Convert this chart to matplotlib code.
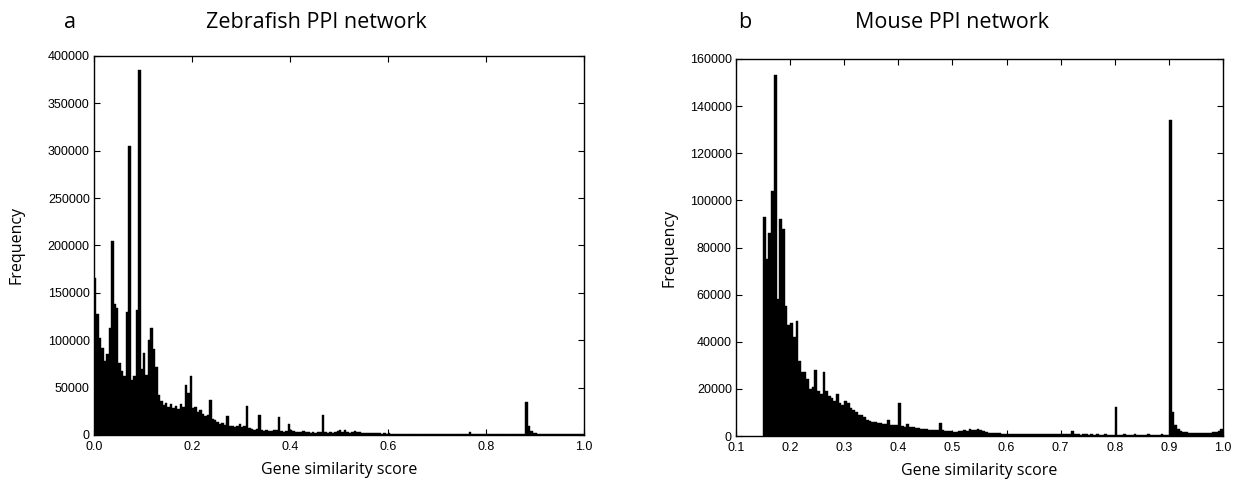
import numpy as np
import matplotlib
matplotlib.use("Agg")
import matplotlib.pyplot as plt

# histogram counts in thousands, bin width 0.005
zebra_start = 0.0
zebra_counts = [
    166, 128, 102, 92, 78, 85, 113, 205, 138, 134,      # 0.00
    76, 68, 62, 130, 305, 58, 62, 132, 385, 70,         # 0.05
    86, 63, 100, 113, 91, 72, 42, 36, 32, 34,           # 0.10
    30, 33, 29, 31, 27, 33, 30, 53, 44, 62,             # 0.15
    28, 30, 24, 26, 22, 20, 21, 37, 17, 16,             # 0.20
    14, 12, 13, 11, 20, 9, 10, 8, 9, 12,                # 0.25
    8, 10, 31, 7, 6, 5, 6, 21, 5, 4,                    # 0.30
    5, 4, 4, 5, 5, 19, 4, 3, 4, 12,                     # 0.35
    5, 4, 3, 3, 3, 4, 3, 3, 2.5, 3,                     # 0.40
    2.5, 3, 3, 21, 3, 2.5, 3, 2, 3, 4,                  # 0.45
    5, 3, 5, 3, 2.5, 3, 4, 3, 3.5, 2.5,                 # 0.50
    2, 2.5, 2, 1.8, 2, 1.6, 1.8, 1.5, 1.6, 1.5,         # 0.55
    2.5, 1.4, 1.3, 1.2, 1.2, 1.1, 1.2, 1.0, 1.1, 1.0,   # 0.60
    1.0, 1.1, 0.9, 1.0, 0.9, 1.0, 0.9, 0.9, 1.0, 0.8,   # 0.65
    0.9, 0.8, 0.9, 0.8, 0.8, 0.9, 0.8, 0.8, 0.8, 0.9,   # 0.70
    0.8, 0.8, 1.0, 3.5, 1.0, 0.8, 0.8, 0.7, 0.8, 0.7,   # 0.75
    0.8, 0.7, 0.8, 0.7, 0.8, 0.7, 0.7, 0.8, 0.7, 0.7,   # 0.80
    0.7, 0.8, 0.7, 0.7, 0.8, 0.7, 34.5, 9, 4.5, 2.5,    # 0.85
    1.8, 1.4, 1.2, 1.1, 1.0, 1.0, 0.9, 1.0, 0.9, 0.9,   # 0.90
    0.9, 0.9, 0.8, 0.9, 0.9, 0.8, 0.9, 0.9, 1.0, 1.5,   # 0.95
]

mouse_start = 0.15
mouse_counts = [
    93, 75, 86, 104, 153, 58, 92, 88, 55, 47,           # 0.15
    48, 42, 49, 32, 27, 27, 24, 20, 21, 28,             # 0.20
    19, 18, 27, 19, 17, 16, 15, 18, 14, 13,             # 0.25
    15, 14, 12, 11, 10, 9, 9, 8, 7, 6.5,                # 0.30
    6, 6, 5.5, 5.5, 5, 5, 7, 4.5, 4.5, 4.5,             # 0.35
    14.2, 4.2, 4, 5, 4, 4, 3.5, 3.5, 3, 3,              # 0.40
    2.8, 2.6, 2.5, 2.5, 2.4, 5.4, 2.5, 2.3, 2.2, 2,     # 0.45
    1.8, 1.8, 2, 2.2, 2.5, 2.2, 2.8, 2.4, 2.6, 2.8,     # 0.50
    2.5, 2.0, 1.5, 1.4, 1.3, 1.2, 1.2, 1.1, 1.0, 1.0,   # 0.55
    0.9, 0.9, 0.8, 0.9, 0.8, 0.8, 0.9, 0.8, 0.8, 0.8,   # 0.60
    0.8, 0.7, 0.8, 0.8, 0.7, 0.8, 0.7, 0.8, 0.7, 0.7,   # 0.65
    0.7, 0.8, 0.7, 0.7, 2.0, 0.7, 0.7, 0.6, 0.7, 0.7,   # 0.70
    0.6, 0.7, 0.6, 0.7, 0.6, 0.6, 0.7, 0.6, 0.6, 0.6,   # 0.75
    12.4, 0.6, 0.6, 0.7, 0.6, 0.6, 0.6, 0.7, 0.6, 0.6,  # 0.80
    0.6, 0.6, 0.7, 0.6, 0.6, 0.6, 0.6, 0.7, 0.6, 0.6,   # 0.85
    134, 10, 4.5, 2.8, 2.0, 1.6, 1.5, 1.4, 1.4, 1.3,    # 0.90
    1.3, 1.3, 1.2, 1.3, 1.3, 1.4, 1.5, 1.8, 2.2, 2.8,   # 0.95
]
bin_width = 0.005

zebra_yticks = [0, 50000, 100000, 150000, 200000, 250000, 300000, 350000, 400000]
zebra_xticks = [0.0, 0.2, 0.4, 0.6, 0.8, 1.0]
mouse_yticks = [0, 20000, 40000, 60000, 80000, 100000, 120000, 140000, 160000]
mouse_xticks = [0.1, 0.2, 0.3, 0.4, 0.5, 0.6, 0.7, 0.8, 0.9, 1.0]

label_font = "Open Sans"
tick_font = "Liberation Sans"

fig = plt.figure(figsize=(12.43, 4.92), dpi=100)
ax_a = fig.add_axes([0.0756, 0.1159, 0.3942, 0.7703])
ax_b = fig.add_axes([0.5921, 0.1138, 0.3918, 0.7663])


def draw_hist(ax, start, counts, xlim, ylim, xticks, yticks, ypad):
    counts = np.array(counts) * 1000
    edges = start + bin_width * np.arange(len(counts))
    ax.bar(edges, counts, width=bin_width, align="edge",
           color="black", edgecolor="black", linewidth=0.3)
    ax.set_xlim(*xlim)
    ax.set_ylim(*ylim)
    ax.set_xticks(xticks)
    ax.set_yticks(yticks)
    ax.set_xticklabels(["%.1f" % t for t in xticks])
    ax.set_yticklabels([str(t) for t in yticks])
    ax.tick_params(direction="in", top=True, right=True, length=4,
                   width=0.8, labelsize=9)
    ax.tick_params(axis="x", pad=4)
    ax.tick_params(axis="y", pad=3)
    for lab in ax.get_xticklabels() + ax.get_yticklabels():
        lab.set_fontfamily(tick_font)
    for sp in ax.spines.values():
        sp.set_linewidth(1.0)
    ax.set_xlabel("Gene similarity score", fontfamily=label_font,
                  fontsize=11.5, labelpad=7)
    ax.set_ylabel("Frequency", fontfamily=label_font, fontsize=11.5,
                  labelpad=ypad)


draw_hist(ax_a, zebra_start, zebra_counts, (0, 1.0), (0, 400000),
          zebra_xticks, zebra_yticks, 17)
draw_hist(ax_b, mouse_start, mouse_counts, (0.1, 1.0), (0, 160000),
          mouse_xticks, mouse_yticks, 9)

# panel letters and titles
title_y = 1 - 22 / 492
fig.text(70 / 1243, title_y, "a", fontfamily=label_font, fontsize=15.5,
         ha="center", va="center")
fig.text(316 / 1243, title_y, "Zebrafish PPI network",
         fontfamily=label_font, fontsize=15.5, ha="center", va="center")
fig.text(745 / 1243, title_y, "b", fontfamily=label_font, fontsize=15.5,
         ha="center", va="center")
fig.text(952 / 1243, title_y, "Mouse PPI network",
         fontfamily=label_font, fontsize=15.5, ha="center", va="center")

fig.savefig("out.png", dpi=100)
